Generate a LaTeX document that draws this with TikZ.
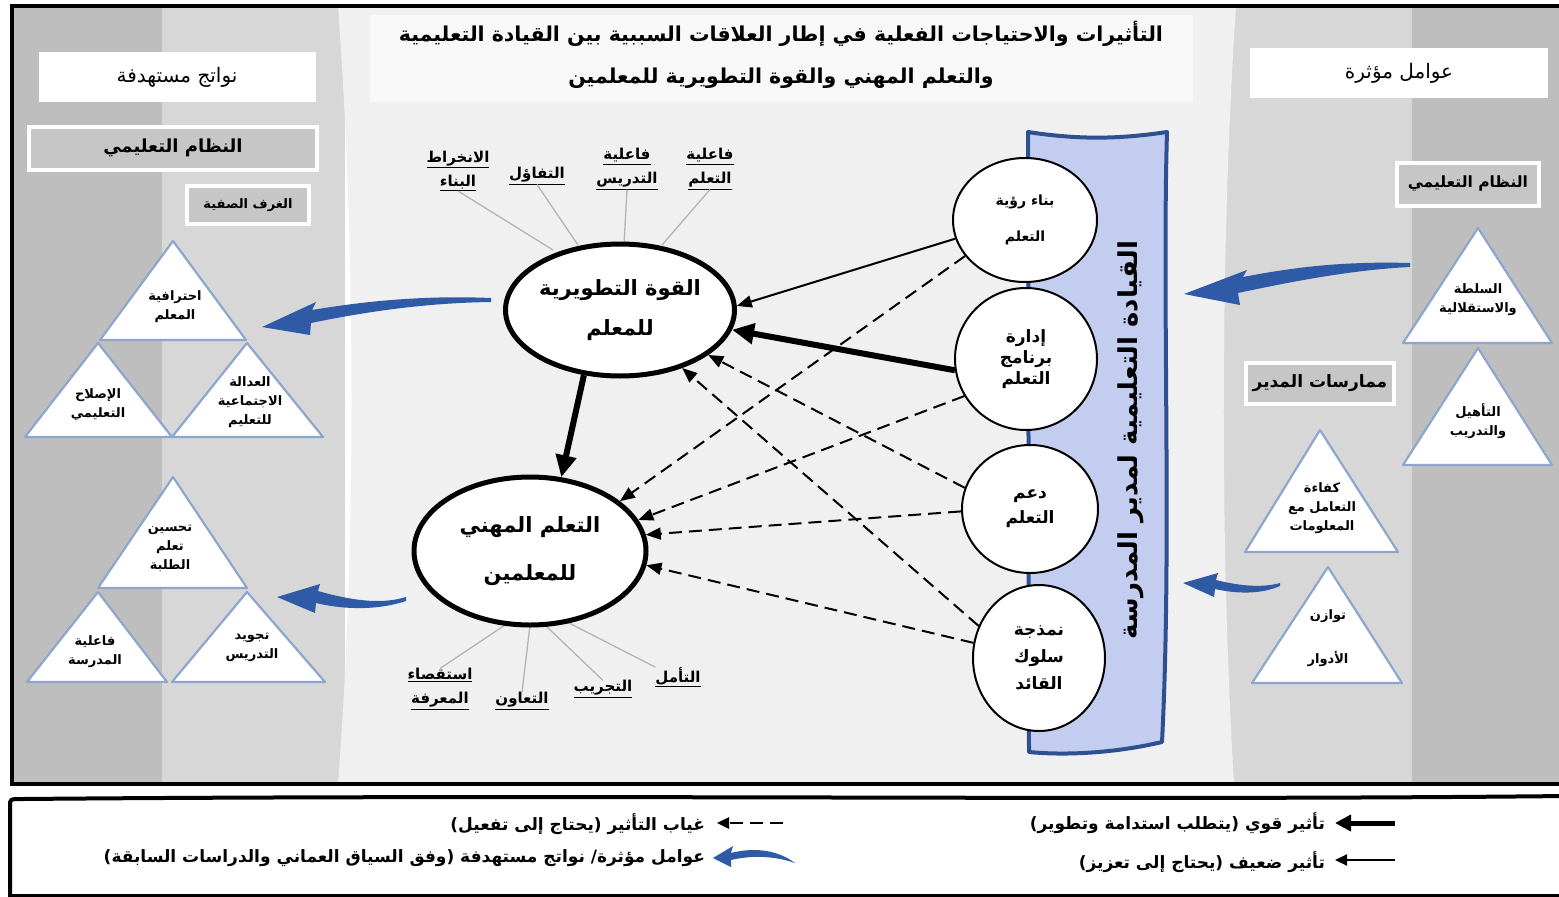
\documentclass[tikz,border=0pt]{standalone}
\usepackage{fontspec}
\newfontfamily\arabicfont[Script=Arabic]{DejaVu Sans}
\TeXXeTstate=1
\newcommand\ar[1]{{\arabicfont\beginR #1\endR}}
\newcommand\fs[2]{\fontsize{#1}{#2}\selectfont}
\newcommand\ulab[1]{\underline{\ar{#1}}}
\usetikzlibrary{arrows.meta,shapes.geometric}
\definecolor{bgdark}{HTML}{BEBEBE}
\definecolor{bgmid}{HTML}{D7D7D7}
\definecolor{bglight}{HTML}{F0F0F0}
\definecolor{titlebg}{HTML}{F8F8F8}
\definecolor{boxgray}{HTML}{C6C6C6}
\definecolor{triedge}{HTML}{8EA6CE}
\definecolor{barfill}{HTML}{C3CDEF}
\definecolor{baredge}{HTML}{2E5090}
\definecolor{swooshblue}{HTML}{2F5AA6}
\definecolor{raygray}{HTML}{B4B4B4}
\begin{document}
\begin{tikzpicture}[x=1pt,y=-1pt,
  every node/.style={inner sep=0pt,outer sep=0pt},
  headbox/.style={fill=white},
  graybox/.style={fill=boxgray,draw=white,line width=4pt},
  tri/.style={fill=white,draw=triedge,line width=2.2pt,line join=round},
  tritext/.style={align=center,font=\fs{13}{19}\bfseries},
  bigell/.style={ellipse,draw=black,fill=white,line width=5pt,outer sep=2.5pt,align=center},
  lead/.style={ellipse,draw=black,fill=white,line width=2pt,outer sep=1pt,align=center},
  lbl/.style={align=center,font=\fs{15}{24}\bfseries},
  ray/.style={draw=raygray,line width=1.3pt},
  strong/.style={-{Triangle[length=22pt,width=20pt]},line width=6pt},
  weak/.style={-{Triangle[length=15pt,width=12pt]},line width=2pt},
  absent/.style={-{Triangle[length=15pt,width=12pt]},line width=2pt,dash pattern=on 13pt off 7pt},
  swoosh/.style={fill=swooshblue,draw=none},
  legtext/.style={anchor=east,font=\fs{17}{20}\bfseries},
]
\useasboundingbox (0,0) rectangle (1559,897);
\fill[white] (0,0) rectangle (1559,897);

% ---- background bands of the main panel
\fill[bgdark] (12,6) rectangle (162,784);
\fill[bgmid] (162,6) rectangle (345,784);
\fill[bgmid] (1220,6) rectangle (1412,784);
\fill[bgdark] (1412,6) rectangle (1562,784);
\fill[bglight] (338,6) .. controls (356,250) and (356,550) .. (338,784)
  -- (1234,784) .. controls (1220,550) and (1220,250) .. (1236,6) -- cycle;
\draw[line width=4pt] (12,6) rectangle (1566,784);

% ---- title and column headers
\node[fill=titlebg,minimum width=823,minimum height=87] (titlebox) at (781,58) {};
\node[align=center,font=\fs{20.5}{42}\bfseries] (title) at (781,55)
  {\ar{التأثيرات والاحتياجات الفعلية في إطار العلاقات السببية بين القيادة التعليمية}\\
   \ar{والتعلم المهني والقوة التطويرية للمعلمين}};
\node[headbox,minimum width=277,minimum height=50,font=\fs{20}{24}] (outhead) at (177,77)
  {\ar{نواتج مستهدفة}};
\node[headbox,minimum width=298,minimum height=50,font=\fs{20}{24}] (inhead) at (1399,73)
  {\ar{عوامل مؤثرة}};

% ---- left column: targeted outcomes
\node[graybox,minimum width=288,minimum height=43,font=\fs{18}{22}\bfseries] (sysL) at (173,148)
  {\ar{النظام التعليمي}};
\node[graybox,minimum width=122,minimum height=38,font=\fs{13}{16}\bfseries] (room) at (248,205)
  {\ar{الغرف الصفية}};

\draw[tri] (100,340) -- (173,241) -- (246,340) -- cycle;
\draw[tri] (25,437) -- (98,343) -- (172,437) -- cycle;
\draw[tri] (172,437) -- (247,343) -- (323,437) -- cycle;
\node[tritext] (tA) at (175,307) {\ar{احترافية}\\\ar{المعلم}};
\node[tritext] (tB) at (98,405) {\ar{الإصلاح}\\\ar{التعليمي}};
\node[tritext] (tC) at (250,402) {\ar{العدالة}\\\ar{الاجتماعية}\\\ar{للتعليم}};

\draw[tri] (98,588) -- (173,477) -- (247,588) -- cycle;
\draw[tri] (27,682) -- (98,592) -- (167,682) -- cycle;
\draw[tri] (172,682) -- (247,592) -- (325,682) -- cycle;
\node[tritext] (tD) at (170,548) {\ar{تحسين}\\\ar{تعلم}\\\ar{الطلبة}};
\node[tritext] (tE) at (95,652) {\ar{فاعلية}\\\ar{المدرسة}};
\node[tritext] (tF) at (252,647) {\ar{تجويد}\\\ar{التدريس}};

% ---- right column: influencing factors
\node[graybox,minimum width=142,minimum height=43,font=\fs{15.5}{20}\bfseries] (sysR) at (1468,184)
  {\ar{النظام التعليمي}};
\node[graybox,minimum width=148,minimum height=41,font=\fs{17}{22}\bfseries] (prac) at (1320,383)
  {\ar{ممارسات المدير}};

\draw[tri] (1403,343) -- (1478,228) -- (1552,343) -- cycle;
\draw[tri] (1403,465) -- (1478,348) -- (1552,465) -- cycle;
\draw[tri] (1245,552) -- (1320,430) -- (1398,552) -- cycle;
\draw[tri] (1252,683) -- (1328,567) -- (1402,683) -- cycle;
\node[tritext] (tG) at (1478,300) {\ar{السلطة}\\\ar{والاستقلالية}};
\node[tritext] (tH) at (1478,421) {\ar{التأهيل}\\\ar{والتدريب}};
\node[tritext] (tI) at (1322,508) {\ar{كفاءة}\\\ar{التعامل مع}\\\ar{المعلومات}};
\node[tritext,font=\fs{13}{44}\bfseries] (tJ) at (1328,638) {\ar{توازن}\\\ar{الأدوار}};

% ---- curved blue arrows (factors in, outcomes out)
\fill[swoosh] (1410,263) .. controls (1340,261) and (1290,268) .. (1243,277)
  -- (1247,270) -- (1184,294) -- (1240,305) -- (1238,293)
  .. controls (1290,282) and (1350,270) .. (1410,267) -- cycle;
\fill[swoosh] (1280,583) .. controls (1262,588) and (1240,586) .. (1216,580)
  -- (1218,573) -- (1183,583) -- (1214,597) -- (1215,589)
  .. controls (1242,595) and (1264,593) .. (1280,586) -- cycle;
\fill[swoosh] (491,298) .. controls (420,295) and (360,302) .. (312,310)
  -- (316,302) -- (262,327) -- (310,335) -- (311,323)
  .. controls (360,313) and (420,303) .. (491,302) -- cycle;
\fill[swoosh] (406,597) .. controls (380,605) and (350,600) .. (318,591)
  -- (320,584) -- (277,597) -- (315,613) -- (316,603)
  .. controls (350,611) and (382,609) .. (406,601) -- cycle;

% ---- school principal's instructional leadership banner
\draw[fill=barfill,draw=baredge,line width=4pt,line join=round]
  (1028,132) .. controls (1080,140) and (1120,139) .. (1167,132)
  .. controls (1162,300) and (1172,550) .. (1162,742)
  .. controls (1120,752) and (1070,756) .. (1029,752) -- cycle;
\node[rotate=90,font=\fs{26}{30}\bfseries] (lead) at (1131,440)
  {\ar{القيادة التعليمية لمدير المدرسة}};

% ---- leadership practices
\node[lead,minimum width=144,minimum height=124,font=\fs{14}{36}\bfseries] (v1) at (1025,220)
  {\ar{بناء رؤية}\\\ar{التعلم}};
\node[lead,minimum width=142,minimum height=142,font=\fs{17}{21}\bfseries] (v2) at (1026,359)
  {\ar{إدارة}\\\ar{برنامج}\\\ar{التعلم}};
\node[lead,minimum width=136,minimum height=128,font=\fs{17}{25}\bfseries] (v3) at (1030,509)
  {\ar{دعم}\\\ar{التعلم}};
\node[lead,minimum width=132,minimum height=146,font=\fs{17}{27}\bfseries] (v4) at (1039,658)
  {\ar{نمذجة}\\\ar{سلوك}\\\ar{القائد}};

% ---- labels around the two central constructs
\node[lbl] (kA) at (458,171) {\ulab{الانخراط}\\\ulab{البناء}};
\node[lbl] (kB) at (537,176) {\ulab{التفاؤل}};
\node[lbl] (kC) at (627,169) {\ulab{فاعلية}\\\ulab{التدريس}};
\node[lbl] (kD) at (710,169) {\ulab{فاعلية}\\\ulab{التعلم}};
\node[lbl] (kE) at (440,689) {\ulab{استقصاء}\\\ulab{المعرفة}};
\node[lbl] (kF) at (522,701) {\ulab{التعاون}};
\node[lbl] (kG) at (603,689) {\ulab{التجريب}};
\node[lbl] (kH) at (678,677) {\ulab{التأمل}};

\draw[ray] (kA.south) -- (553,250);
\draw[ray] (kB.south) -- (578,245);
\draw[ray] (kC.south) -- (624,245);
\draw[ray] (kD.south) -- (662,245);
\draw[ray] (kE.north) -- (505,625);
\draw[ray] (kF.north) -- (530,625);
\draw[ray] (kG.north) -- (545,625);
\draw[ray] (kH.north west) -- (567,622);

\node[bigell,minimum width=226,minimum height=132,font=\fs{21}{40}\bfseries] (dev) at (620,310)
  {\ar{القوة التطويرية}\\\ar{للمعلم}};
\node[bigell,minimum width=232,minimum height=148,font=\fs{21}{48}\bfseries] (prof) at (530,551)
  {\ar{التعلم المهني}\\\ar{للمعلمين}};

% ---- causal links
\draw[weak] (v1.195) -- (dev.2);
\draw[strong] (v2.189) -- (dev.-10);
\draw[strong] (dev.-119) -- (prof.67);
\draw[absent] (v1.211) -- (prof.29);
\draw[absent] (v2.211) -- (prof.16);
\draw[absent] (v3.162) -- (dev.-27);
\draw[absent] (v3.182) -- (prof.8);
\draw[absent] (v4.152) -- (dev.-43);
\draw[absent] (v4.167) -- (prof.-7);

% ---- key
\draw[line width=4pt] (10,900) -- (10,806) .. controls (10,799) .. (22,799)
  .. controls (600,794) and (1100,801) .. (1566,796);
\draw[line width=4pt] (10,896) -- (1566,896);

\coordinate (kS1) at (1395,823); \coordinate (kS2) at (1335,823);
\coordinate (kW1) at (1395,860); \coordinate (kW2) at (1335,860);
\coordinate (kN1) at (783,823);  \coordinate (kN2) at (717,823);
\draw[-{Triangle[length=16pt,width=16pt]},line width=5pt] (kS1) -- (kS2);
\draw[-{Triangle[length=12pt,width=11pt]},line width=2pt] (kW1) -- (kW2);
\draw[-{Triangle[length=12pt,width=11pt]},line width=2.5pt,dash pattern=on 13pt off 7pt] (kN1) -- (kN2);
\fill[swoosh] (795,863) .. controls (775,848) and (750,848) .. (731,853)
  -- (733,846) -- (713,858) -- (731,867) -- (731,860)
  .. controls (752,855) and (775,856) .. (795,863) -- cycle;

\node[legtext] (kst) at (1325,823) {\ar{تأثير قوي (يتطلب استدامة وتطوير)}};
\node[legtext] (kwk) at (1325,862) {\ar{تأثير ضعيف (يحتاج إلى تعزيز)}};
\node[legtext] (kab) at (705,824) {\ar{غياب التأثير (يحتاج إلى تفعيل)}};
\node[legtext] (ksw) at (705,858) {\ar{عوامل مؤثرة/ نواتج مستهدفة (وفق السياق العماني والدراسات السابقة)}};
\end{tikzpicture}
\end{document}
